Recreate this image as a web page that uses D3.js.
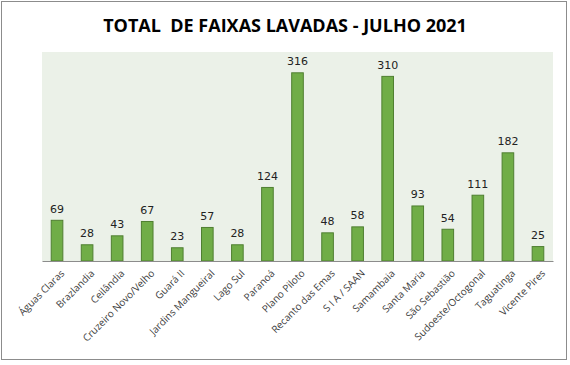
<!DOCTYPE html>
<html><head><meta charset="utf-8">
<script src="https://cdn.jsdelivr.net/npm/d3@7"></script>
<style>body{margin:0;background:#fff}svg{display:block}</style>
</head><body>
<script>
const categories = ["Águas Claras","Brazlandia","Ceilândia","Cruzeiro Novo/Velho","Guará II","Jardins Mangueiral","Lago Sul","Paranoá","Plano Piloto","Recanto das Emas","S I A / SAAN","Samambaia","Santa Maria","São Sebastião","Sudoeste/Octogonal","Taguatinga","Vicente Pires"];
const values = [69,28,43,67,23,57,28,124,316,48,58,310,93,54,111,182,25];
const title = "TOTAL  DE FAIXAS LAVADAS - JULHO 2021";

const W = 570, H = 365;
const svg = d3.select("body").append("svg").attr("width", W).attr("height", H);
svg.append("rect").attr("x",1.5).attr("y",1.5).attr("width",W-5).attr("height",H-7)
  .attr("fill","#fff").attr("stroke","#8c8c8c").attr("stroke-width",1);

const m = {l:42, r:553, t:52, b:261};
svg.append("rect").attr("x",m.l).attr("y",m.t).attr("width",m.r-m.l).attr("height",m.b-m.t).attr("fill","#ebf1e8");

const x = d3.scaleBand().domain(categories).range([m.l,m.r]).paddingInner(0.58).paddingOuter(0.29);
const y = d3.scaleLinear().domain([0,350]).range([m.b,m.t]);

svg.append("g").selectAll("rect").data(values).join("rect")
  .attr("x",(d,i)=>x(categories[i])+0.5).attr("y",d=>y(d)+0.5)
  .attr("width",x.bandwidth()-1).attr("height",d=>m.b-y(d)-0.5)
  .attr("fill","#70ad47").attr("stroke","#4f7f31").attr("stroke-width",1);

svg.append("g").selectAll("text").data(values).join("text")
  .attr("x",(d,i)=>x(categories[i])+x.bandwidth()/2).attr("y",d=>y(d)-7)
  .attr("text-anchor","middle").attr("font-family","DejaVu Sans, Verdana, sans-serif").attr("font-size",11)
  .attr("fill","#222").text(d=>d);

const ax = d3.axisBottom(x).tickSize(0).tickSizeOuter(0);
const g = svg.append("g").attr("transform",`translate(0,${m.b})`).call(ax);
g.select(".domain").attr("stroke","#8c8c8c").attr("stroke-width",1.2);
g.selectAll("text").attr("font-family","Open Sans, Calibri, sans-serif").attr("font-size",10).attr("fill","#404040")
  .attr("text-anchor","end").attr("dy",null).attr("y",0)
  .attr("transform","translate(8,13) rotate(-45)");

svg.append("text").attr("x",285).attr("y",32).attr("text-anchor","middle")
  .attr("font-family","Open Sans, sans-serif").attr("font-weight","bold").attr("font-size",18)
  .attr("fill","#000").style("white-space","pre").text(title);
</script>
</body></html>
